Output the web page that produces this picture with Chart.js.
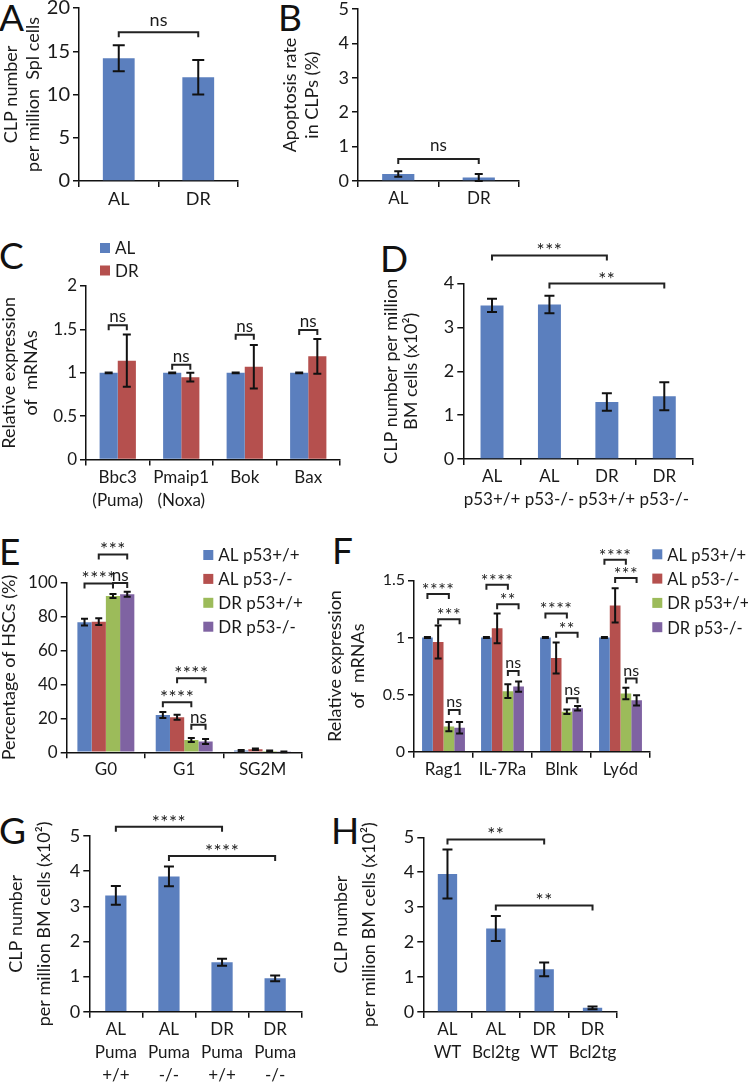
<!DOCTYPE html>
<html><head><meta charset="utf-8">
<script src="https://cdn.jsdelivr.net/npm/chart.js@4.4.0/dist/chart.umd.min.js"></script>
<style>
html,body{margin:0;padding:0;background:#fff;width:748px;height:1084px;overflow:hidden;position:relative;font-family:Lato,sans-serif}
canvas{position:absolute;left:-40px;top:-40px}
.lt{position:absolute;font-family:Lato,sans-serif;font-size:37px;line-height:1;color:#111}
</style></head><body>
<div class="lt" style="left:-1px;top:-2px">A</div>
<div class="lt" style="left:278px;top:-2px">B</div>
<div class="lt" style="left:-1px;top:236px">C</div>
<div class="lt" style="left:380px;top:239px">D</div>
<div class="lt" style="left:-1px;top:532px">E</div>
<div class="lt" style="left:332px;top:531px">F</div>
<div class="lt" style="left:-1px;top:811px">G</div>
<div class="lt" style="left:331px;top:811px">H</div>
<canvas id="cA" width="828" height="1164"></canvas>
<canvas id="cB" width="828" height="1164"></canvas>
<canvas id="cC" width="828" height="1164"></canvas>
<canvas id="cD" width="828" height="1164"></canvas>
<canvas id="cE" width="828" height="1164"></canvas>
<canvas id="cF" width="828" height="1164"></canvas>
<canvas id="cG" width="828" height="1164"></canvas>
<canvas id="cH" width="828" height="1164"></canvas>
<script>
// ---------- DATA ----------
// A
const catsA = ['AL', 'DR'];
const valsA = [14.2, 12.0];
const errA = [1.5, 2.0];
const sigA = [[0, 1, 17.2, 'ns']];
// B
const catsB = ['AL', 'DR'];
const valsB = [0.2, 0.1];
const errB = [0.08, 0.1];
const sigB = [[0, 1, 0.64, 'ns']];
// C
const catsC = [['Bbc3', '(Puma)'], ['Pmaip1', '(Noxa)'], 'Bok', 'Bax'];
const namesC = ['AL', 'DR'];
const alC = [1, 1, 1, 1];
const drC = [1.14, 0.95, 1.07, 1.19];
const errAlC = [0.004, 0.004, 0.004, 0.004];
const errDrC = [0.3, 0.05, 0.25, 0.2];
const sigC = [[0, 0, 1, 1.547, 'ns'], [1, 0, 1, 1.093, 'ns'], [2, 0, 1, 1.439, 'ns'], [3, 0, 1, 1.493, 'ns']];
// D
const catsD = [['AL', 'p53+/+'], ['AL', 'p53-/-'], ['DR', 'p53+/+'], ['DR', 'p53-/-']];
const valsD = [3.5, 3.52, 1.30, 1.43];
const errD = [0.15, 0.2, 0.2, 0.32];
const sigD = [[0, 2, 4.64, '***'], [1, 3, 4.0, '**']];
// E
const catsE = ['G0', 'G1', 'SG2M'];
const namesE = ['AL p53+/+', 'AL p53-/-', 'DR p53+/+', 'DR p53-/-'];
const alWtE = [76.7, 22.0, 1.0];
const alKoE = [77.0, 20.7, 1.8];
const drWtE = [92.2, 7.3, 0.8];
const drKoE = [93.2, 6.4, 0.3];
const errAlWtE = [2.0, 1.8, 0.3];
const errAlKoE = [2.0, 1.5, 0.5];
const errDrWtE = [1.2, 1.2, 0.2];
const errDrKoE = [1.5, 1.5, 0.2];
const sigE = [[0, 0, 2, 99.6, '****'], [0, 2, 3, 99.8, 'ns'], [0, 1, 3, 116.7, '***'],
              [1, 0, 2, 29.5, '****'], [1, 1, 3, 43.6, '****'], [1, 2, 3, 16.3, 'ns']];
// F
const catsF = ['Rag1', 'IL-7Ra', 'Blnk', 'Ly6d'];
const namesF = ['AL p53+/+', 'AL p53-/-', 'DR p53+/+', 'DR p53-/-'];
const alWtF = [1, 1, 1, 1];
const alKoF = [0.96, 1.08, 0.82, 1.28];
const drWtF = [0.22, 0.53, 0.35, 0.51];
const drKoF = [0.21, 0.57, 0.38, 0.45];
const errAlWtF = [0.004, 0.004, 0.004, 0.004];
const errAlKoF = [0.145, 0.13, 0.135, 0.15];
const errDrWtF = [0.04, 0.06, 0.02, 0.05];
const errDrKoF = [0.05, 0.045, 0.02, 0.045];
const sigF = [[0, 0, 2, 1.38, '****'], [0, 1, 3, 1.16, '***'], [0, 2, 3, 0.365, 'ns'],
              [1, 0, 2, 1.46, '****'], [1, 1, 3, 1.29, '**'], [1, 2, 3, 0.706, 'ns'],
              [2, 0, 2, 1.21, '****'], [2, 1, 3, 1.04, '**'], [2, 2, 3, 0.467, 'ns'],
              [3, 0, 2, 1.68, '****'], [3, 1, 3, 1.52, '***'], [3, 2, 3, 0.64, 'ns']];
// G
const catsG = [['AL', 'Puma', '+/+'], ['AL', 'Puma', '-/-'], ['DR', 'Puma', '+/+'], ['DR', 'Puma', '-/-']];
const valsG = [3.31, 3.85, 1.41, 0.95];
const errG = [0.27, 0.28, 0.1, 0.08];
const sigG = [[0, 2, 5.26, '****'], [1, 3, 4.43, '****']];
// H
const catsH = [['AL', 'WT'], ['AL', 'Bcl2tg'], ['DR', 'WT'], ['DR', 'Bcl2tg']];
const valsH = [3.95, 2.39, 1.22, 0.12];
const errH = [0.7, 0.36, 0.2, 0.04];
const sigH = [[0, 2, 4.94, '**'], [1, 3, 3.05, '**']];

// ---------- STYLE / LAYOUT ----------
const OFF = 40, W = 828, H = 1164;
const TXT = '#1a1a1a', AX = '#111';
const BLUE = '#5b7fbe', RED = '#b5504e', GREEN = '#9cbb5a', PURPLE = '#7f63a2';
const FONT = 'Lato, sans-serif';

function annot(o) {
  return {
    id: 'annot' + o.id,
    afterDatasetsDraw(chart) {
      const c = chart.ctx, ys = chart.scales.y;
      c.save();
      c.strokeStyle = AX; c.lineWidth = 2; c.lineCap = 'butt';
      o.errs.forEach((es, i) => {
        const meta = chart.getDatasetMeta(i);
        es.forEach((e, j) => {
          const bar = meta.data[j];
          const v = o.series[i][j];
          const x = bar.x;
          const y1 = ys.getPixelForValue(v + e), y2 = ys.getPixelForValue(Math.max(v - e, 0));
          const h = o.cap;
          c.beginPath();
          c.moveTo(x, y1); c.lineTo(x, y2);
          c.moveTo(x - h, y1); c.lineTo(x + h, y1);
          c.moveTo(x - h, y2); c.lineTo(x + h, y2);
          c.stroke();
        });
      });
      // significance brackets
      c.fillStyle = TXT;
      c.textAlign = 'center'; c.textBaseline = 'alphabetic';
      o.sig.forEach(s => {
        let x1, x2, hv, lab;
        if (o.multi) {
          x1 = chart.getDatasetMeta(s[1]).data[s[0]].x;
          x2 = chart.getDatasetMeta(s[2]).data[s[0]].x;
          hv = s[3]; lab = s[4];
        } else {
          x1 = chart.getDatasetMeta(0).data[s[0]].x;
          x2 = chart.getDatasetMeta(0).data[s[1]].x;
          hv = s[2]; lab = s[3];
        }
        const y = ys.getPixelForValue(hv);
        c.strokeStyle = '#222'; c.lineWidth = 2;
        c.beginPath();
        c.moveTo(x1, y + 5); c.lineTo(x1, y); c.lineTo(x2, y); c.lineTo(x2, y + 5);
        c.stroke();
        const star = lab.indexOf('*') >= 0;
        c.font = (star ? (o.stfs || 19) : (o.nsfs || 17)) + 'px ' + FONT;
        c.letterSpacing = star ? '0.5px' : '0px';
        c.fillText(lab, (x1 + x2) / 2, y + (star ? (o.stgap || 2) : -(o.nsgap || 4)));
      });
      c.letterSpacing = '0px';
      // legend
      if (o.legend) {
        const L = o.legend;
        c.font = (L.fs || 17) + 'px ' + FONT;
        c.textAlign = 'left'; c.textBaseline = 'middle';
        chart.data.datasets.forEach((d, i) => {
          const yc = L.y + OFF + i * L.dy;
          c.fillStyle = d.backgroundColor;
          c.fillRect(L.x + OFF, yc - 5, 10, 10);
          c.fillStyle = TXT;
          c.fillText(d.label, L.x + OFF + 15, yc + 1);
        });
      }
      c.restore();
    }
  };
}

function fmt(v) { return String(Math.round(v * 100) / 100); }

function panel(id, o) {
  const el = document.getElementById(id);
  const P = o.plot;
  const l = P.l + OFF, t = P.t + OFF, r = P.r + OFF, b = P.b + OFF;
  const tfs = o.tfs || 18;
  const tlh = o.titleLH || 22;
  const titlePad = o.titleX + OFF - tlh / 2;
  new Chart(el, {
    type: 'bar',
    data: {
      labels: o.labels,
      datasets: o.series.map((s, i) => ({
        label: o.names ? o.names[i] : 'series',
        data: s,
        backgroundColor: o.colors[i],
        borderWidth: 0,
        categoryPercentage: o.catPct,
        barPercentage: 1
      }))
    },
    options: {
      responsive: false, animation: false, devicePixelRatio: 1,
      layout: { padding: { left: 0, top: t, right: W - r, bottom: 0 } },
      plugins: { legend: { display: false }, tooltip: { enabled: false }, title: { display: false } },
      scales: {
        x: {
          type: 'category', offset: true,
          grid: { display: true, drawOnChartArea: false, drawTicks: true, tickLength: 6, tickColor: AX, lineWidth: 1.5, offset: true },
          border: { display: true, color: AX, width: 1.5 },
          ticks: { color: TXT, font: { family: FONT, size: o.xfs || 17, lineHeight: 1.35 }, padding: o.xpad || 0, maxRotation: 0, minRotation: 0, autoSkip: false },
          afterFit(s) { s.height = H - b; }
        },
        y: {
          min: 0, max: o.max,
          ticks: { stepSize: o.step, color: TXT, font: { family: FONT, size: o.yfs || 17 }, padding: 3, callback: fmt },
          grid: { drawOnChartArea: false, drawTicks: true, tickLength: 6, tickColor: AX, lineWidth: 1.5 },
          border: { display: true, color: AX, width: 1.5 },
          title: { display: true, text: o.title, color: TXT, font: { family: FONT, size: tfs, lineHeight: tlh / tfs }, padding: { top: titlePad, bottom: 0 } },
          afterFit(s) { s.width = l; }
        }
      }
    },
    plugins: [annot(o)]
  });
}

panel('cA', { id: 'A', plot: { l: 79, t: 8, r: 238, b: 181 }, max: 20, step: 5, yfs: 20, xfs: 18,
  labels: catsA, series: [valsA], errs: [errA], colors: [BLUE], catPct: 0.4, cap: 6,
  sig: sigA, nsgap: 6, nsfs: 18, title: ['CLP number', 'per million  Spl cells'], titleX: 11, titleLH: 22.5 });

panel('cB', { id: 'B', plot: { l: 358, t: 9, r: 519, b: 181 }, max: 5, step: 1, yfs: 18,
  labels: catsB, series: [valsB], errs: [errB], colors: [BLUE], catPct: 0.4, cap: 4,
  sig: sigB, nsgap: 8, title: ['Apoptosis rate', 'in CLPs (%)'], titleX: 290, titleLH: 22 });

panel('cC', { id: 'C', plot: { l: 86, t: 286, r: 340, b: 459.6 }, max: 2, step: 0.5, yfs: 17,
  labels: catsC, names: namesC, series: [alC, drC], errs: [errAlC, errDrC], colors: [BLUE, RED], catPct: 0.5714, cap: 4,
  multi: true, sig: sigC, nsgap: 3, title: ['Relative expression', 'of  mRNAs'], titleX: 9, titleLH: 22,
  legend: { x: 100, y: 248, dy: 22.5 } });

panel('cD', { id: 'D', plot: { l: 463.3, t: 283.5, r: 693, b: 459 }, max: 4, step: 1, yfs: 18,
  labels: catsD, series: [valsD], errs: [errD], colors: [BLUE], catPct: 0.4, cap: 5,
  sig: sigD, title: ['CLP number per million', 'BM cells (x10\u00B2)'], titleX: 391, titleLH: 20 });

panel('cE', { id: 'E', plot: { l: 66.7, t: 582.7, r: 301.7, b: 752.3 }, max: 100, step: 20,
  labels: catsE, names: namesE, series: [alWtE, alKoE, drWtE, drKoE], errs: [errAlWtE, errAlKoE, errDrWtE, errDrKoE],
  colors: [BLUE, RED, GREEN, PURPLE], catPct: 0.727, cap: 3.5,
  multi: true, sig: sigE, nsgap: 2, title: 'Percentage of HSCs (%)', titleX: 9, titleLH: 22,
  legend: { x: 203.3, y: 555, dy: 23.9 } });

panel('cF', { id: 'F', plot: { l: 414, t: 580.3, r: 650, b: 751.7 }, max: 1.5, step: 0.5, yfs: 16,
  labels: catsF, names: namesF, series: [alWtF, alKoF, drWtF, drKoF], errs: [errAlWtF, errAlKoF, errDrWtF, errDrKoF],
  colors: [BLUE, RED, GREEN, PURPLE], catPct: 0.727, cap: 3.5,
  multi: true, sig: sigF, nsgap: 3, nsfs: 16, stfs: 18, title: ['Relative expression', 'of  mRNAs'], titleX: 335, titleLH: 23,
  legend: { x: 652.3, y: 554.3, dy: 24.3, fs: 16.5 } });

panel('cG', { id: 'G', plot: { l: 89.3, t: 836, r: 301.7, b: 1011.7 }, max: 5, step: 1, yfs: 18,
  labels: catsG, series: [valsG], errs: [errG], colors: [BLUE], catPct: 0.4, cap: 5,
  sig: sigG, title: ['CLP number', 'per million BM cells (x10\u00B2)'], titleX: 16, titleLH: 28 });

panel('cH', { id: 'H', plot: { l: 423.3, t: 837.3, r: 616.7, b: 1012 }, max: 5, step: 1, yfs: 18,
  labels: catsH, series: [valsH], errs: [errH], colors: [BLUE], catPct: 0.4, cap: 5,
  sig: sigH, title: ['CLP number', 'per million BM cells (x10\u00B2)'], titleX: 341, titleLH: 28 });
</script>
</body></html>
